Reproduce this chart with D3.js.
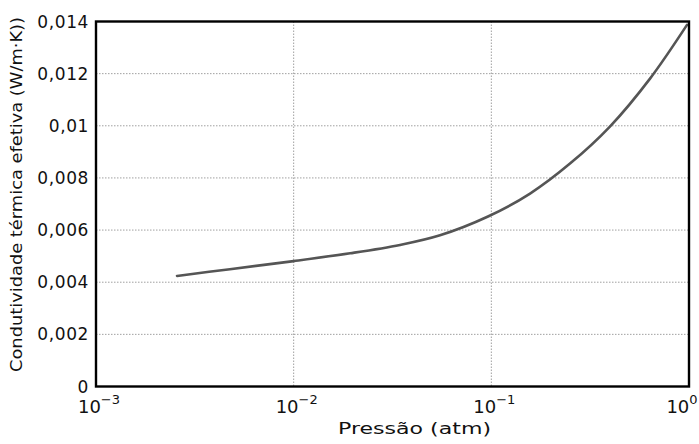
<!DOCTYPE html>
<html><head><meta charset="utf-8">
<script src="https://cdn.jsdelivr.net/npm/d3@7"></script>
<style>body{margin:0;background:#fff}svg{display:block}text{font-family:"DejaVu Sans",sans-serif;fill:#111}</style>
</head><body>
<svg id="c" width="699" height="444"></svg>
<script>
const pressure = [0.00257,0.00476,0.0100,0.0193,0.0345,0.0550,0.0962,0.157,0.250,0.398,0.635,0.977];
const conductivity = [0.00424,0.00450,0.00481,0.00511,0.00543,0.00580,0.00652,0.00740,0.00855,0.00997,0.01181,0.01387];
const yTicks = [0,0.002,0.004,0.006,0.008,0.01,0.012,0.014];
const yTickLabels = ["0","0,002","0,004","0,006","0,008","0,01","0,012","0,014"];
const xTicks = [0.001,0.01,0.1,1];
const xTickExponents = ["\u22123","\u22122","\u22121","0"];
const xTitle = "Pressão (atm)";
const yTitle = "Condutividade térmica efetiva (W/m·K))";

const svg = d3.select("#c");
const L=96,R=689,T=21.5,B=386.5;
const x = d3.scaleLog().domain([0.001,1]).range([L,R]);
const y = d3.scaleLinear().domain([0,0.014]).range([B,T]);

// grid
const g = svg.append("g");
g.selectAll(".hg").data(yTicks.filter(v=>v>0&&v<0.014)).join("line")
  .attr("x1",L).attr("x2",R).attr("y1",d=>y(d)).attr("y2",d=>y(d))
  .attr("stroke","#a0a0a0").attr("stroke-width",1).attr("stroke-dasharray","1.5,1.5");
g.selectAll(".vg").data(xTicks.filter(v=>v>0.001&&v<1)).join("line")
  .attr("y1",T).attr("y2",B).attr("x1",d=>x(d)).attr("x2",d=>x(d))
  .attr("stroke","#a0a0a0").attr("stroke-width",1).attr("stroke-dasharray","1.5,1.5");

// curve
const pts = pressure.map((p,i)=>[p,conductivity[i]]);
svg.append("path").datum(pts)
  .attr("d", d3.line().x(d=>x(d[0])).y(d=>y(d[1])).curve(d3.curveCatmullRom.alpha(0.5)))
  .attr("fill","none").attr("stroke","#555").attr("stroke-width",2.6).attr("stroke-linecap","round");

// frame
svg.append("rect").attr("x",L).attr("y",T).attr("width",R-L).attr("height",B-T)
  .attr("fill","none").attr("stroke","#000").attr("stroke-width",2.4);

// y tick labels
svg.selectAll(".yt").data(yTicks).join("text")
  .attr("x",89).attr("y",d=>y(d)+6).attr("text-anchor","end")
  .attr("font-size",17).attr("letter-spacing","0.6")
  .text((d,i)=>yTickLabels[i]);

// x tick labels
const xt = svg.selectAll(".xt").data(xTicks).join("text")
  .attr("x",(d,i)=> i===xTicks.length-1 ? x(d)-7 : x(d)+3).attr("y",413)
  .attr("text-anchor","middle").attr("font-size",18);
xt.append("tspan").text("10");
xt.append("tspan").attr("dy",-9).attr("font-size",13).text((d,i)=>xTickExponents[i]);

// titles
svg.append("text").attr("x",414.5).attr("y",434).attr("text-anchor","middle")
  .attr("font-size",16.5).attr("textLength",153).attr("lengthAdjust","spacingAndGlyphs").text(xTitle);
svg.append("text").attr("transform","translate(22,194.5) rotate(-90)").attr("text-anchor","middle")
  .attr("font-size",16.5).attr("textLength",355).attr("lengthAdjust","spacingAndGlyphs").text(yTitle);
</script>
</body></html>
